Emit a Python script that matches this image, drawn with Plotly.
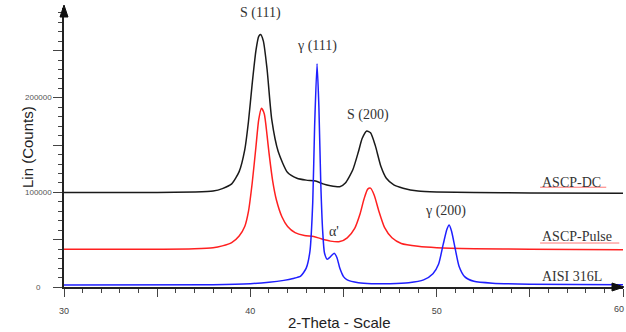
import plotly.graph_objects as go

# ---------------- data ----------------
dc_x = [30, 35, 37, 38, 38.5, 39, 39.4, 39.7, 39.9, 40.1, 40.3, 40.45, 40.55, 40.7, 40.9,
        41.15, 41.5, 42.0, 42.5, 43.0, 43.5, 43.9, 44.3, 44.8, 45.1, 45.5, 45.8,
        46.0, 46.25, 46.45, 46.7, 47.0, 47.3, 47.7, 48.2, 49, 50, 52, 55, 60]
dc_y = [100000, 100000, 100500, 101500, 104000, 109000, 122000, 145000, 175000, 215000,
        250000, 265000, 267000, 260000, 230000, 177000, 143000, 121000, 115000, 113000,
        112000, 109000, 107000, 106000, 110000, 124000, 143000, 157000,
        165000, 163000, 150000, 128000, 115000, 108000, 104500, 101500, 100500, 100000,
        99500, 99000]

pulse_x = [30, 35, 37, 38, 38.5, 39, 39.4, 39.7, 39.9, 40.1, 40.3, 40.45, 40.6, 40.75, 40.9,
           41.0, 41.2, 41.4, 41.7, 42.0, 42.4, 42.9, 43.4, 43.8, 44.3, 44.8, 45.2, 45.6,
           45.9, 46.1, 46.3, 46.45, 46.65, 46.9, 47.2, 47.6, 48.1, 49, 50, 52, 55, 60]
pulse_y = [40000, 40000, 40500, 41500, 43500, 47000, 54000, 64000, 80000, 110000, 148000,
           177000, 189000, 183000, 160000, 142000, 112000, 92000, 74000, 64000, 57500,
           54500, 53500, 51000, 48500, 48000, 52000, 62000, 78000, 93000, 103500, 104500,
           97000, 80000, 63000, 52000, 46000, 43000, 41500, 40500, 40000, 39500]

aisi_x = [30, 38, 40, 41, 41.8, 42.3, 42.7, 43.0, 43.2, 43.35, 43.45, 43.58, 43.68, 43.78,
          43.88, 43.98, 44.13, 44.3, 44.5, 44.65, 44.8, 45.0, 45.2, 45.8, 46.5, 47.5, 48.5,
          49.3, 49.8, 50.1, 50.35, 50.55, 50.67, 50.8, 51.0, 51.2, 51.5, 52, 53, 55, 60]
aisi_y = [2000, 2500, 3500, 5000, 7000, 9000, 11500, 20000, 38000, 90000, 170000, 236000,
          190000, 110000, 60000, 36000, 29300, 32000, 35700, 31000, 20000, 11000, 7500,
          4500, 3500, 3500, 4500, 7500, 14000, 24000, 45000, 61000, 65500, 59000, 40000,
          22000, 11000, 6000, 4000, 3000, 2500]

x_tick_vals = [30, 35, 40, 45, 50, 55, 60]
x_tick_text = ["30", "", "40", "", "50", "", ""]
x_edge_label = "60"
y_label_vals = [0, 100000, 200000]
y_label_text = ["0", "100000", "200000"]

peak_labels = ["S (111)", "γ (111)", "S (200)", "α'", "γ (200)"]
peak_label_x = [40.52, 43.58, 46.3, 44.5, 50.45]
peak_label_y = [290000, 255000, 182000, 59000, 80500]

series_names = ["ASCP-DC", "ASCP-Pulse", "AISI 316L"]
series_label_y = [111000, 53000, 11600]
series_colors = ["#1a1a1a", "#ff2020", "#1f1fff"]

# ---------------- figure ----------------
fig = go.Figure()
for xs, ys, name, col in [(dc_x, dc_y, series_names[0], series_colors[0]),
                          (pulse_x, pulse_y, series_names[1], series_colors[1]),
                          (aisi_x, aisi_y, series_names[2], series_colors[2])]:
    fig.add_trace(go.Scatter(x=xs, y=ys, mode="lines", name=name,
                             line=dict(color=col, width=1.5, shape="spline", smoothing=0.6),
                             showlegend=False, hoverinfo="x+y"))

serif = "Liberation Serif, Times New Roman, serif"
sans = "Liberation Sans, Arial, sans-serif"

annotations = []
for t, xv, yv in zip(peak_labels, peak_label_x, peak_label_y):
    annotations.append(dict(x=xv, y=yv, xref="x", yref="y", text=t, showarrow=False,
                            font=dict(family=serif, size=14, color="#333")))
for t, yv in zip(series_names, series_label_y):
    annotations.append(dict(x=55.55, y=yv, xref="x", yref="y", text=t, showarrow=False,
                            xanchor="left", font=dict(family=serif, size=14, color="#333")))
for t, yv in zip(y_label_text, y_label_vals):
    annotations.append(dict(x=0, y=yv, xref="paper", yref="y", text=t, showarrow=False,
                            xanchor="center", xshift=-26,
                            font=dict(family=sans, size=8, color="#555")))
annotations.append(dict(x=60, y=0, xref="x", yref="paper", text=x_edge_label,
                        showarrow=False, xanchor="right", yanchor="middle", yshift=-22,
                        xshift=3, font=dict(family=sans, size=9, color="#444")))
# axis titles
annotations.append(dict(x=0, y=0.5, xref="paper", yref="paper", text="Lin (Counts)",
                        showarrow=False, textangle=-90, xshift=-47,
                        font=dict(family=sans, size=15, color="#222")))
annotations.append(dict(x=0.5, y=0, xref="paper", yref="paper", text="2-Theta - Scale",
                        showarrow=False, yanchor="middle", yshift=-35, xshift=-4,
                        font=dict(family=sans, size=15, color="#222")))

shapes = [
    dict(type="line", xref="x", yref="y", x0=55.55, x1=59.1, y0=105500, y1=105500,
         line=dict(color="rgba(255,60,60,0.7)", width=1)),
    dict(type="line", xref="x", yref="y", x0=55.55, x1=59.8, y0=46500, y1=46500,
         line=dict(color="rgba(255,60,60,0.7)", width=1)),
    # axis arrowheads
    dict(type="path", xref="paper", yref="paper", xsizemode="pixel", ysizemode="pixel",
         xanchor=0, yanchor=1, path="M-4,-9 L4,-9 L0,3 Z",
         fillcolor="#111", line=dict(color="#111", width=1)),
    dict(type="path", xref="paper", yref="paper", xsizemode="pixel", ysizemode="pixel",
         xanchor=1, yanchor=0, path="M-11,-4 L-11,4 L1,0 Z",
         fillcolor="#111", line=dict(color="#111", width=1)),
]

fig.update_layout(
    width=626, height=332,
    margin=dict(l=64, r=3, t=8, b=45),
    paper_bgcolor="white", plot_bgcolor="white",
    annotations=annotations, shapes=shapes,
    xaxis=dict(range=[30, 60], showgrid=False, zeroline=False,
               showline=True, linecolor="#222", linewidth=1.5,
               tickmode="array", tickvals=x_tick_vals, ticktext=x_tick_text,
               ticks="outside", ticklen=8, tickcolor="#444", tickwidth=1,
               minor=dict(dtick=1, ticks="outside", ticklen=4, tickcolor="#444"),
               tickfont=dict(family=sans, size=9, color="#444"),
               ticklabelstandoff=6),
    yaxis=dict(range=[0, 295000], showgrid=False, zeroline=False,
               showline=True, linecolor="#222", linewidth=1.5,
               tickmode="linear", tick0=0, dtick=50000, showticklabels=False,
               ticks="outside", ticklen=9, tickcolor="#444", tickwidth=1,
               minor=dict(dtick=10000, ticks="outside", ticklen=4, tickcolor="#444")),
)

fig.write_html("out.html", post_script="document.body.style.margin='0px';",
               config={"displayModeBar": False})
